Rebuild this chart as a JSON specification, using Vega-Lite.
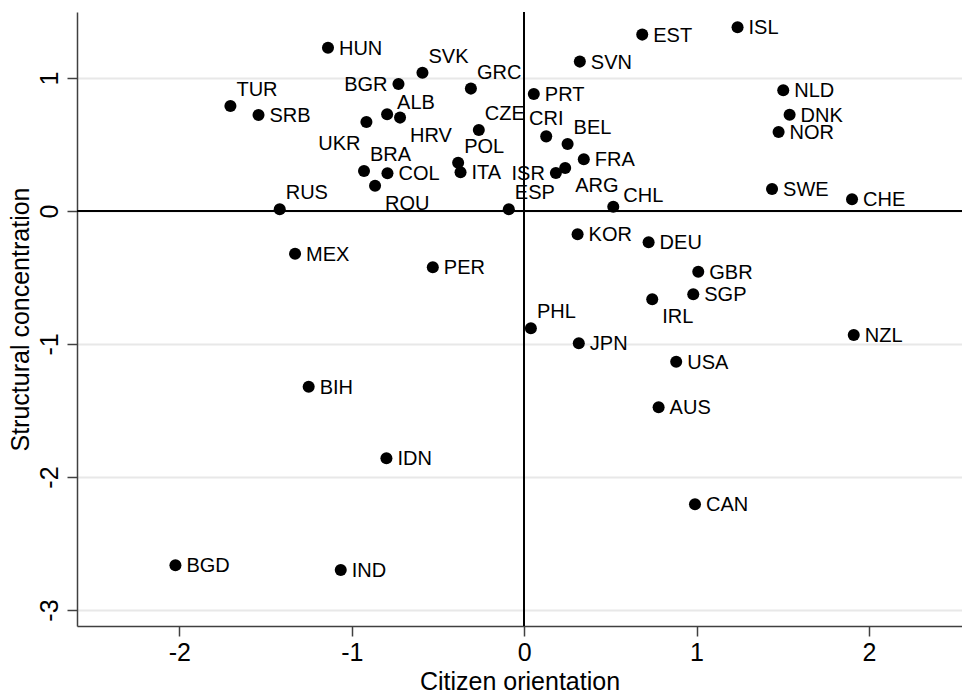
{
  "$schema": "https://vega.github.io/schema/vega-lite/v6.json",
  "width": 885,
  "height": 614,
  "autosize": {"type": "none"},
  "padding": {"left": 77, "top": 12, "right": 0, "bottom": 67},
  "config": {
    "font": "Liberation Sans",
    "view": {"stroke": null},
    "axis": {"domainColor": "#404040", "domainWidth": 1.5, "tickColor": "#404040", "tickWidth": 1.5, "tickSize": 10, "labelColor": "#000", "titleColor": "#000", "labelFont": "Liberation Sans", "titleFont": "Liberation Sans", "titleFontWeight": "normal", "labelFontSize": 25, "titleFontSize": 25, "labelExpr": "'' + datum.value"}
  },
  "data": {"values": [
    {"country": "HUN", "x": -1.138, "y": 1.228},
    {"country": "SVK", "x": -0.590, "y": 1.040},
    {"country": "BGR", "x": -0.729, "y": 0.955},
    {"country": "TUR", "x": -1.704, "y": 0.789},
    {"country": "SRB", "x": -1.541, "y": 0.722},
    {"country": "UKR", "x": -0.915, "y": 0.669},
    {"country": "ALB", "x": -0.795, "y": 0.727},
    {"country": "HRV", "x": -0.720, "y": 0.702},
    {"country": "BRA", "x": -0.929, "y": 0.301},
    {"country": "COL", "x": -0.793, "y": 0.283},
    {"country": "ROU", "x": -0.865, "y": 0.190},
    {"country": "RUS", "x": -1.418, "y": 0.013},
    {"country": "POL", "x": -0.383, "y": 0.363},
    {"country": "ITA", "x": -0.369, "y": 0.291},
    {"country": "GRC", "x": -0.309, "y": 0.920},
    {"country": "CZE", "x": -0.263, "y": 0.609},
    {"country": "EST", "x": 0.685, "y": 1.326},
    {"country": "ISL", "x": 1.238, "y": 1.381},
    {"country": "SVN", "x": 0.323, "y": 1.123},
    {"country": "PRT", "x": 0.056, "y": 0.880},
    {"country": "NLD", "x": 1.503, "y": 0.907},
    {"country": "DNK", "x": 1.540, "y": 0.724},
    {"country": "NOR", "x": 1.476, "y": 0.594},
    {"country": "CRI", "x": 0.128, "y": 0.561},
    {"country": "BEL", "x": 0.252, "y": 0.504},
    {"country": "FRA", "x": 0.346, "y": 0.389},
    {"country": "ISR", "x": 0.184, "y": 0.286},
    {"country": "ARG", "x": 0.238, "y": 0.323},
    {"country": "CHL", "x": 0.517, "y": 0.032},
    {"country": "ESP", "x": -0.089, "y": 0.013},
    {"country": "SWE", "x": 1.438, "y": 0.165},
    {"country": "CHE", "x": 1.902, "y": 0.088},
    {"country": "KOR", "x": 0.310, "y": -0.175},
    {"country": "DEU", "x": 0.722, "y": -0.235},
    {"country": "GBR", "x": 1.010, "y": -0.456},
    {"country": "SGP", "x": 0.981, "y": -0.626},
    {"country": "IRL", "x": 0.743, "y": -0.664},
    {"country": "PHL", "x": 0.039, "y": -0.882},
    {"country": "JPN", "x": 0.317, "y": -0.995},
    {"country": "NZL", "x": 1.912, "y": -0.932},
    {"country": "USA", "x": 0.882, "y": -1.133},
    {"country": "AUS", "x": 0.780, "y": -1.476},
    {"country": "MEX", "x": -1.329, "y": -0.321},
    {"country": "PER", "x": -0.530, "y": -0.423},
    {"country": "BIH", "x": -1.250, "y": -1.321},
    {"country": "IDN", "x": -0.799, "y": -1.859},
    {"country": "BGD", "x": -2.023, "y": -2.664},
    {"country": "IND", "x": -1.064, "y": -2.699},
    {"country": "CAN", "x": 0.991, "y": -2.205}
  ]},
  "encoding": {
    "x": {"field": "x", "type": "quantitative", "scale": {"domain": [-2.594, 2.54], "nice": false, "zero": false},
      "axis": {"values": [-2, -1, 0, 1, 2], "grid": false, "title": "Citizen orientation", "labelPadding": 4, "titlePadding": 4}},
    "y": {"field": "y", "type": "quantitative", "scale": {"domain": [-3.12, 1.496], "nice": false, "zero": false},
      "axis": {"values": [-3, -2, -1, 0, 1], "grid": true, "gridColor": "#e8e8e8", "gridWidth": 2, "labelAngle": 270, "labelAlign": "center", "labelBaseline": "alphabetic", "labelPadding": 10, "title": "Structural concentration", "titlePadding": 4}}
  },
  "layer": [
    {"mark": {"type": "rule", "color": "#000", "strokeWidth": 1.5}, "encoding": {"x": {"datum": 0}, "y": null}},
    {"mark": {"type": "rule", "color": "#000", "strokeWidth": 1.5}, "encoding": {"y": {"datum": 0}, "x": null}},
    {"mark": {"type": "circle", "size": 145, "color": "#000", "opacity": 1}},
    {"transform": [{"filter": {"not": {"field": "country", "oneOf": ["BGR", "ISR", "CRI", "TUR", "BRA", "RUS", "POL", "GRC", "CZE", "BEL", "ESP", "PHL", "SVK", "ALB", "CHL", "HRV", "ROU", "ARG", "IRL", "UKR"]}}}],
      "mark": {"type": "text", "align": "left", "baseline": "middle", "dx": 11, "dy": 1, "fontSize": 20, "color": "#000"}, "encoding": {"text": {"field": "country"}}},
    {"transform": [{"filter": {"field": "country", "oneOf": ["BGR", "ISR"]}}],
      "mark": {"type": "text", "align": "right", "baseline": "middle", "dx": -11, "dy": 1, "fontSize": 20, "color": "#000"}, "encoding": {"text": {"field": "country"}}},
    {"transform": [{"filter": {"field": "country", "oneOf": ["CRI"]}}],
      "mark": {"type": "text", "align": "center", "baseline": "middle", "dx": 0, "dy": -17, "fontSize": 20, "color": "#000"}, "encoding": {"text": {"field": "country"}}},
    {"transform": [{"filter": {"field": "country", "oneOf": ["TUR", "BRA", "RUS", "POL", "GRC", "CZE", "BEL", "ESP", "PHL", "SVK"]}}],
      "mark": {"type": "text", "align": "left", "baseline": "middle", "dx": 6, "dy": -16, "fontSize": 20, "color": "#000"}, "encoding": {"text": {"field": "country"}}},
    {"transform": [{"filter": {"field": "country", "oneOf": ["ALB", "CHL"]}}],
      "mark": {"type": "text", "align": "left", "baseline": "middle", "dx": 10, "dy": -11, "fontSize": 20, "color": "#000"}, "encoding": {"text": {"field": "country"}}},
    {"transform": [{"filter": {"field": "country", "oneOf": ["HRV", "ROU", "ARG", "IRL"]}}],
      "mark": {"type": "text", "align": "left", "baseline": "middle", "dx": 10, "dy": 18, "fontSize": 20, "color": "#000"}, "encoding": {"text": {"field": "country"}}},
    {"transform": [{"filter": {"field": "country", "oneOf": ["UKR"]}}],
      "mark": {"type": "text", "align": "right", "baseline": "middle", "dx": -6, "dy": 22, "fontSize": 20, "color": "#000"}, "encoding": {"text": {"field": "country"}}}
  ]
}
